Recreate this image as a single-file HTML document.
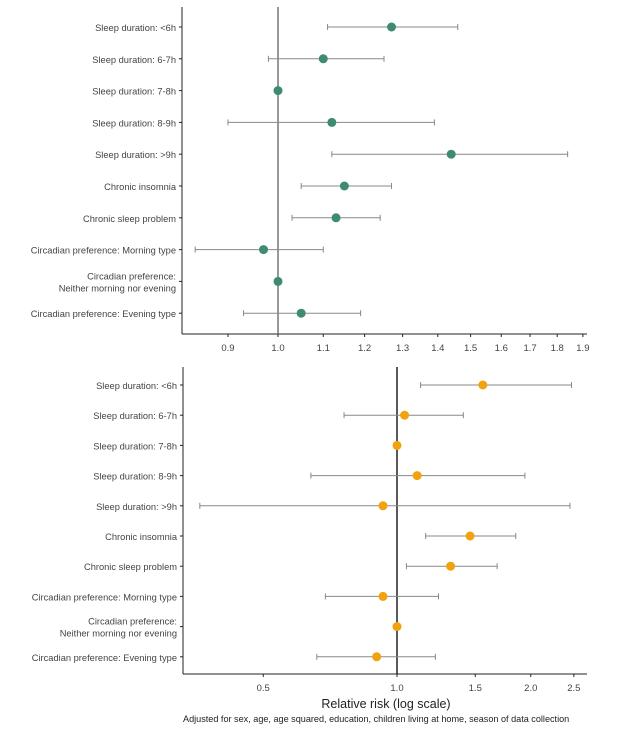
<!DOCTYPE html>
<html><head><meta charset="utf-8"><style>
body{margin:0;background:#fff;}
svg{display:block;font-family:"Liberation Sans",sans-serif;}
</style></head><body>
<svg id="c" width="621" height="732"></svg>
<script>
const labels=["Sleep duration: <6h","Sleep duration: 6-7h","Sleep duration: 7-8h","Sleep duration: 8-9h","Sleep duration: >9h","Chronic insomnia","Chronic sleep problem","Circadian preference: Morning type","Circadian preference:|Neither morning nor evening","Circadian preference: Evening type"];
const topEst=[1.27,1.10,1.0,1.12,1.44,1.15,1.13,0.97,1.0,1.05];
const topLo=[1.11,0.98,null,0.90,1.12,1.05,1.03,0.84,null,0.93];
const topHi=[1.46,1.25,null,1.39,1.84,1.27,1.24,1.10,null,1.19];
const topTicks=[0.9,1.0,1.1,1.2,1.3,1.4,1.5,1.6,1.7,1.8,1.9];
const botEst=[1.56,1.04,1.0,1.11,0.93,1.46,1.32,0.93,1.0,0.90];
const botLo=[1.13,0.76,null,0.64,0.36,1.16,1.05,0.69,null,0.66];
const botHi=[2.47,1.41,null,1.94,2.45,1.85,1.68,1.24,null,1.22];
const botTicks=[0.5,1.0,1.5,2.0,2.5];
const NS="http://www.w3.org/2000/svg";
const svg=document.getElementById('c');
function el(t,a,p){const e=document.createElementNS(NS,t);for(const k in a)e.setAttribute(k,a[k]);(p||svg).appendChild(e);return e;}
function panel(cfg){
  const g=el('g',{});
  
  
  const xs=v=>cfg.x0+Math.log(v)*cfg.k;
  const ys=i=>cfg.y0+i*cfg.dy;
  el('line',{x1:cfg.left,y1:cfg.top,x2:cfg.left,y2:cfg.axisY,stroke:'#222','stroke-width':1},g);
  el('line',{x1:cfg.left,y1:cfg.axisY,x2:cfg.right,y2:cfg.axisY,stroke:'#222','stroke-width':1},g);
  el('line',{x1:xs(1),y1:cfg.top,x2:xs(1),y2:cfg.axisY,stroke:cfg.refCol,'stroke-width':1.5},g);
  cfg.ticks.forEach(t=>{
    const x=xs(t);
    el('line',{x1:x,y1:cfg.axisY,x2:x,y2:cfg.axisY+3,stroke:'#222'},g);
    const tx=el('text',{x:x,y:cfg.axisY+17,'text-anchor':'middle','font-size':9.5,fill:'#444'},g);
    tx.textContent=t.toFixed(1);
    
    
  });
  labels.forEach((l,i)=>{
    const y=ys(i);
    el('line',{x1:cfg.left-3,y1:y,x2:cfg.left,y2:y,stroke:'#222'},g);
    const parts=l.split('|');
    parts.forEach((p,j)=>{
      const tx=el('text',{x:cfg.left-6,y:y+4+(j-(parts.length-1)/2)*12,'text-anchor':'end','font-size':9.3,fill:'#444'},g);
      tx.textContent=p;
      
      
    });
    if(cfg.lo[i]!=null){
      const a=xs(cfg.lo[i]),b=xs(cfg.hi[i]);
      const ln=el('line',{x1:a,y1:y,x2:b,y2:y,stroke:'#888','stroke-width':1},g);
      
      
      el('line',{x1:a,y1:y-3,x2:a,y2:y+3,stroke:'#888'},g);
      el('line',{x1:b,y1:y-3,x2:b,y2:y+3,stroke:'#888'},g);
    }
    const c=el('circle',{cx:xs(cfg.est[i]),cy:y,r:4.5,fill:cfg.col},g);
    
    
  });
}
panel({name:'sleep-panel-top',x0:278,k:475,left:182,right:587,top:7,axisY:334,y0:27,dy:31.8,ticks:topTicks,est:topEst,lo:topLo,hi:topHi,col:'#3f8a72',refCol:'#777'});
panel({name:'sleep-panel-bottom',x0:397,k:193,left:183,right:587,top:367,axisY:674,y0:385,dy:30.2,ticks:botTicks,est:botEst,lo:botLo,hi:botHi,col:'#f2a20c',refCol:'#222'});
</script>
<div style="position:absolute;left:0;top:0;width:621px;">
<div style="position:absolute;top:697px;left:184px;width:404px;text-align:center;font:12.5px 'Liberation Sans',sans-serif;color:#222;">Relative risk (log scale)</div>
<div style="position:absolute;top:714px;left:183px;font:9.1px 'Liberation Sans',sans-serif;color:#222;white-space:nowrap;">Adjusted for sex, age, age squared, education, children living at home, season of data collection</div>
</div>
</body></html>
